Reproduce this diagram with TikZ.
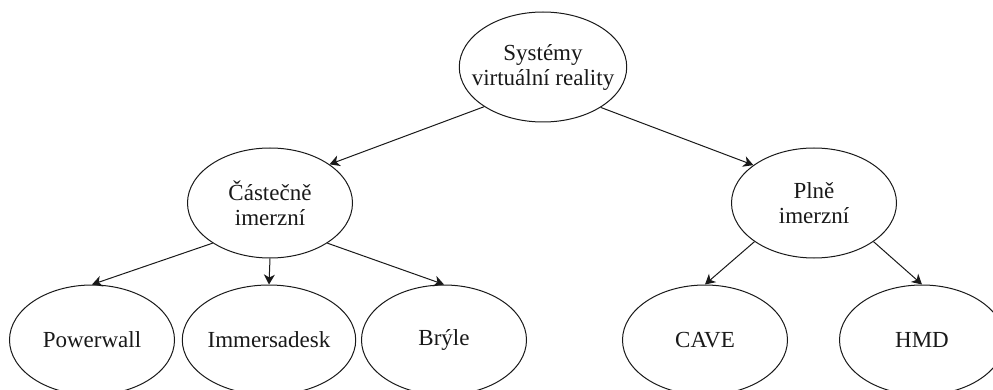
\documentclass[tikz,border=0pt]{standalone}
\usepackage{fontspec}
\setmainfont{Liberation Serif}
\usetikzlibrary{shapes.geometric,arrows.meta}
\begin{document}
\begin{tikzpicture}[x=1pt,y=-1pt,
  vr/.style={draw=black!90, line width=1pt, ellipse, inner sep=0pt,
    minimum width=165pt, minimum height=110pt, align=center,
    text=black!90, font=\fontsize{23}{25}\selectfont},
  arr/.style={draw=black!90, line width=1pt, -{Stealth[length=10pt,width=11pt,inset=3pt]}}]
\useasboundingbox (0,0) rectangle (993,390);
\node[vr, inner xsep=-12pt] (top) at (543,67) {Systémy\\virtuální reality};
\node[vr] (part) at (270,203) {Částečně\\imerzní};
\node[vr] (full) at (814,203) {Plně\\imerzní};
\node[vr] (pw) at (92,340) {Powerwall};
\node[vr] (imm) at (269,340) {Immersadesk};
\node[vr] (bry) at (444,340) {Brýle};
\node[vr] (cave) at (705,340) {CAVE};
\node[vr] (hmd) at (922,340) {HMD};
\draw[arr] (top.214) -- (part.33);
\draw[arr] (top.325) -- (full.148);
\draw[arr] (part.215) -- (pw.north);
\draw[arr] (part.south) -- (imm.north);
\draw[arr] (part.325) -- (bry.north);
\draw[arr] (full.213) -- (cave.north);
\draw[arr] (full.327) -- (hmd.north);
\end{tikzpicture}
\end{document}
